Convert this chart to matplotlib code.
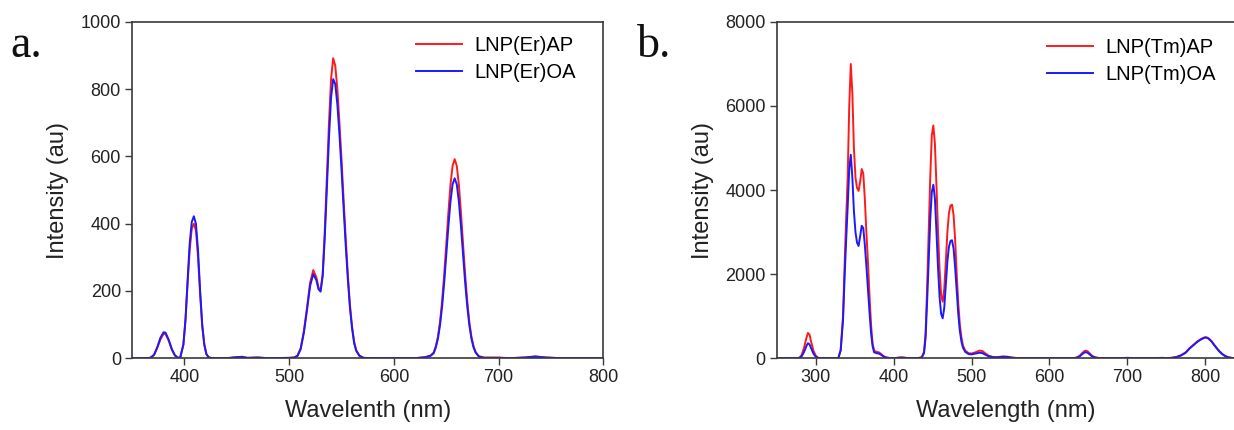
import matplotlib
matplotlib.use("Agg")
import matplotlib.pyplot as plt

# ---------------- Panel a: Er-doped ----------------
er_wl = [350, 365, 368, 371, 374, 377, 380, 382, 385, 388, 391, 394, 396, 399, 401, 403, 405, 407,
         409, 411, 413, 415, 417, 419, 421, 423, 426, 440, 450, 455, 460, 470, 480, 500,
         505, 508, 511, 514, 517, 520, 523, 526, 528, 530, 532, 534, 536, 538, 540, 542, 544,
         546, 548, 550, 552, 554, 556, 558, 560, 562, 564, 567, 571, 580, 620, 630, 635, 638,
         640, 642, 644, 646, 648, 650, 652, 654, 656, 658, 660, 662, 664, 666, 668, 670, 672,
         674, 676, 678, 681, 686, 690, 700, 710, 725, 735, 745, 760, 800]
er_ap = [0, 0, 2, 10, 30, 55, 72, 72, 52, 25, 8, 1, 2, 40, 110, 220, 320, 385,
         400, 380, 300, 190, 95, 40, 12, 3, 0, 0, 3, 4, 1, 2, 0, 1,
         2, 8, 30, 80, 150, 225, 262, 240, 210, 202, 250, 380, 540, 700, 830, 892, 870,
         800, 700, 590, 470, 355, 250, 160, 95, 50, 24, 8, 1, 0, 0, 3, 8, 17,
         36, 64, 108, 170, 249, 340, 433, 516, 572, 592, 572, 516, 433, 340, 249, 170, 108,
         64, 36, 18, 6, 2, 2, 2, 0, 2, 5, 2, 0, 0]
er_oa = [0, 0, 2, 10, 32, 60, 77, 76, 55, 27, 8, 1, 2, 40, 115, 230, 340, 405,
         422, 400, 320, 200, 100, 40, 12, 3, 0, 0, 3, 4, 1, 2, 0, 1,
         2, 7, 27, 75, 142, 215, 250, 232, 205, 198, 245, 360, 505, 655, 775, 830, 815,
         755, 665, 560, 445, 335, 235, 150, 90, 45, 22, 7, 1, 0, 0, 3, 7, 15,
         32, 58, 98, 154, 225, 308, 392, 466, 517, 535, 517, 466, 392, 308, 225, 154, 98,
         58, 32, 17, 5, 1, 1, 1, 0, 2, 5, 2, 0, 0]

# ---------------- Panel b: Tm-doped ----------------
tm_wl = [250, 270, 279, 282, 285, 288, 290, 292, 294, 297, 300, 303, 306, 329, 332, 335, 337,
         339, 341, 343, 345, 347, 349, 351, 353, 355, 357, 359, 361, 363, 365, 367, 369, 371,
         373, 375, 378, 381, 384, 387, 390, 395, 400, 405, 410, 415, 420, 430, 436, 439, 441,
         443, 445, 447, 449, 451, 453, 455, 457, 459, 461, 463, 465, 467, 469, 471, 473, 475,
         477, 479, 481, 483, 485, 487, 489, 492, 496, 500, 505, 510, 514, 518, 522, 527, 533,
         540, 546, 552, 560, 630, 635, 639, 642, 645, 647, 649, 652, 655, 659, 664, 670, 690,
         700, 710, 735, 745, 750, 757, 763, 769, 775, 780, 785, 790, 795, 799, 801, 804, 808,
         812, 815, 818, 822, 826, 830, 835, 840]
tm_ap = [0, 0, 10, 80, 250, 480, 600, 560, 400, 180, 60, 10, 0, 0, 200, 1000, 2200,
         3300, 4300, 6000, 7000, 6300, 5000, 4300, 4050, 3980, 4200, 4500, 4400, 3800, 3000, 2300, 1500, 800,
         350, 180, 150, 140, 100, 50, 20, 5, 0, 10, 20, 10, 0, 0, 20, 150, 600,
         1700, 3000, 4300, 5300, 5535, 5100, 4100, 3000, 2100, 1500, 1343, 1650, 2300, 3000, 3450, 3630, 3653,
         3400, 2800, 2000, 1300, 800, 500, 300, 180, 120, 110, 140, 180, 170, 110, 60, 30, 25,
         40, 35, 15, 0, 0, 15, 60, 120, 170, 180, 165, 110, 55, 20, 3, 0, 0,
         10, 0, 0, 10, 0, 10, 30, 70, 140, 240, 320, 400, 460, 495, 500, 480, 410,
         310, 240, 170, 100, 50, 20, 5, 0]
tm_oa = [0, 0, 5, 45, 150, 290, 356, 330, 240, 110, 35, 5, 0, 0, 180, 900, 1900,
         2800, 3600, 4500, 4840, 4300, 3500, 3000, 2750, 2670, 2900, 3150, 3100, 2700, 2200, 1650, 1100, 600,
         280, 140, 120, 110, 80, 40, 15, 3, 0, 8, 15, 8, 0, 0, 15, 120, 480,
         1350, 2300, 3300, 3950, 4128, 3800, 3000, 2150, 1450, 1050, 949, 1200, 1750, 2300, 2650, 2790, 2807,
         2600, 2150, 1600, 1050, 650, 400, 250, 150, 100, 90, 110, 130, 120, 80, 45, 25, 20,
         35, 30, 12, 0, 0, 12, 45, 95, 135, 142, 130, 85, 40, 15, 2, 0, 0,
         5, 0, 0, 5, 0, 8, 25, 65, 130, 230, 310, 390, 450, 485, 490, 470, 400,
         300, 230, 165, 95, 45, 18, 4, 0]

plt.rcParams['font.family'] = ['Liberation Sans', 'DejaVu Sans']

fig = plt.figure(figsize=(12.34, 4.30), dpi=100)
ax1 = fig.add_axes([0.107, 0.167, 0.382, 0.782])
ax2 = fig.add_axes([0.6295, 0.167, 0.3705, 0.782])

spine_c = '#3a3a3a'
txt_c = '#222222'

def style(ax):
    for s in ax.spines.values():
        s.set_color(spine_c)
        s.set_linewidth(1.2)
    ax.tick_params(direction='out', length=5, width=1.0, color=spine_c,
                   labelsize=13, labelcolor=txt_c, pad=3)

ax1.plot(er_wl, er_ap, color='#ff1a1a', lw=1.4, label='LNP(Er)AP')
ax1.plot(er_wl, er_oa, color='#1a1aff', lw=1.4, label='LNP(Er)OA')
ax1.set_xlim(350, 800)
ax1.set_ylim(0, 1000)
ax1.set_xticks([400, 500, 600, 700, 800])
ax1.set_yticks([0, 200, 400, 600, 800, 1000])
ax1.set_xlabel('Wavelenth (nm)', fontsize=17, color=txt_c, labelpad=10)
ax1.set_ylabel('Intensity (au)', fontsize=17, color=txt_c, labelpad=8)
style(ax1)
ax1.legend(loc='upper left', frameon=False, fontsize=14.5, handlelength=2.3,
           handletextpad=0.6, labelspacing=0.4, borderpad=0, borderaxespad=0,
           bbox_to_anchor=(416 / 1234, 1 - 36 / 430), bbox_transform=fig.transFigure)

ax2.plot(tm_wl, tm_ap, color='#ff1a1a', lw=1.4, label='LNP(Tm)AP')
ax2.plot(tm_wl, tm_oa, color='#1a1aff', lw=1.4, label='LNP(Tm)OA')
ax2.set_xlim(250, 837)
ax2.set_ylim(0, 8000)
ax2.set_xticks([300, 400, 500, 600, 700, 800])
ax2.set_yticks([0, 2000, 4000, 6000, 8000])
ax2.set_xlabel('Wavelength (nm)', fontsize=17, color=txt_c, labelpad=10)
ax2.set_ylabel('Intensity (au)', fontsize=17, color=txt_c, labelpad=8)
style(ax2)
ax2.spines['right'].set_visible(False)
ax2.legend(loc='upper left', frameon=False, fontsize=14.5, handlelength=2.3,
           handletextpad=0.6, labelspacing=0.4, borderpad=0, borderaxespad=0,
           bbox_to_anchor=(1047 / 1234, 1 - 38 / 430), bbox_transform=fig.transFigure)

fig.text(10 / 1234, 1 - 57 / 430, 'a.', fontsize=33, va='baseline',
         family=['Liberation Serif', 'DejaVu Serif'], color='#111111')
fig.text(637 / 1234, 1 - 57 / 430, 'b.', fontsize=33, va='baseline',
         family=['Liberation Serif', 'DejaVu Serif'], color='#111111')

fig.savefig('out.png', dpi=100)
